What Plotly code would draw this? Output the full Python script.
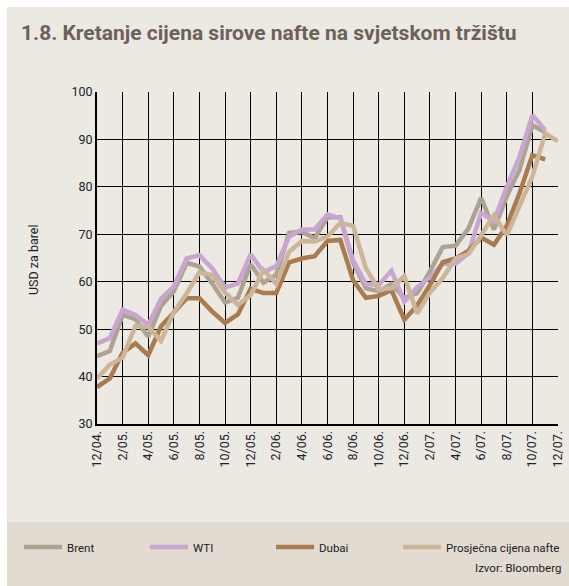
import plotly.graph_objects as go

months = ["12/04.", "1/05.", "2/05.", "3/05.", "4/05.", "5/05.", "6/05.", "7/05.", "8/05.",
          "9/05.", "10/05.", "11/05.", "12/05.", "1/06.", "2/06.", "3/06.", "4/06.", "5/06.",
          "6/06.", "7/06.", "8/06.", "9/06.", "10/06.", "11/06.", "12/06.", "1/07.", "2/07.",
          "3/07.", "4/07.", "5/07.", "6/07.", "7/07.", "8/07.", "9/07.", "10/07.", "11/07.", "12/07."]
tick_labels = months[::2]

brent = [44.3, 45.4, 53.0, 52.1, 48.4, 54.9, 58.0, 64.0, 63.2, 59.6, 55.6, 56.6, 63.7, 59.8, 61.5,
         70.3, 70.5, 69.2, 73.6, 73.6, 64.0, 58.6, 58.0, 59.5, 56.6, 57.6, 62.2, 67.3, 67.6, 71.2,
         77.7, 71.0, 78.0, 83.6, 93.0, 91.5]
wti = [47.0, 48.1, 54.1, 53.0, 50.9, 56.4, 59.0, 64.9, 65.6, 62.8, 58.8, 59.6, 65.8, 62.0, 63.3,
       69.5, 71.0, 71.0, 74.2, 73.3, 64.5, 59.5, 59.3, 62.3, 55.8, 58.8, 60.9, 63.8, 63.8, 66.0,
       74.5, 72.8, 80.0, 86.4, 95.1, 92.0]
dubai = [37.8, 39.6, 45.0, 47.0, 44.5, 50.6, 53.5, 56.5, 56.5, 53.7, 51.3, 53.1, 58.5, 57.6, 57.6,
         64.1, 64.9, 65.4, 68.6, 68.8, 60.3, 56.6, 57.0, 58.2, 52.0, 55.0, 59.3, 64.1, 64.9, 66.5,
         69.3, 67.8, 71.8, 78.7, 86.7, 85.8]
avg = [39.6, 42.5, 44.0, 50.7, 50.5, 47.5, 53.6, 57.5, 62.0, 61.4, 57.7, 55.1, 57.2, 62.5, 59.5,
       66.3, 68.6, 68.5, 69.5, 72.4, 71.8, 62.8, 58.4, 58.6, 61.2, 53.3, 57.7, 60.8, 64.9, 65.8,
       69.8, 74.0, 69.8, 75.8, 82.2, 91.3, 89.6]

series = [
    ("Brent", brent, "#ADA392", "legend"),
    ("WTI", wti, "#C8A5D2", "legend"),
    ("Dubai", dubai, "#A97B4F", "legend"),
    ("Prosječna cijena nafte", avg, "#CDB59A", "legend2"),
]

FONT = "Roboto, sans-serif"
PANEL = "#ECE8E2"
BAND = "#E1DBD1"

W, H = 569, 586
ML, MR, MT, MB = 97, 11, 92, 162
PW, PH = W - ML - MR, H - MT - MB

def px(x):
    return (x - ML) / PW

def py(y):
    return (H - MB - y) / PH

fig = go.Figure()
for name, vals, col, lg in series:
    fig.add_trace(go.Scatter(
        x=list(range(len(vals))), y=vals, name=name, mode="lines", legend=lg,
        line=dict(color=col, width=4.5), hoverinfo="skip"))

shapes = [
    dict(type="rect", xref="paper", yref="paper", x0=px(7), x1=px(W + 5), y0=py(7), y1=py(H + 5),
         fillcolor=PANEL, line=dict(width=0), layer="below"),
    dict(type="rect", xref="paper", yref="paper", x0=px(7), x1=px(W + 5), y0=py(522), y1=py(H + 5),
         fillcolor=BAND, line=dict(width=0), layer="below"),
]

annotations = [
    dict(text="<b>1.8. Kretanje cijena sirove nafte na svjetskom tržištu</b>", xref="paper", yref="paper",
         x=px(19), y=py(33), xanchor="left", yanchor="middle", showarrow=False,
         font=dict(family=FONT, size=21, color="#6E6158")),
    dict(text="USD za barel", xref="paper", yref="paper", x=px(33), y=py(260), textangle=-90,
         xanchor="center", yanchor="middle", showarrow=False,
         font=dict(family=FONT, size=12.5, color="#222")),
    dict(text="Izvor: Bloomberg", xref="paper", yref="paper", x=px(563), y=py(568),
         xanchor="right", yanchor="middle", showarrow=False,
         font=dict(family=FONT, size=11.5, color="#222")),
]

legend_common = dict(orientation="h", yanchor="middle", xanchor="left", bgcolor="rgba(0,0,0,0)",
                     itemwidth=38, font=dict(family=FONT, size=11.5, color="#222"))

fig.update_layout(
    width=W, height=H,
    margin=dict(l=ML, r=MR, t=MT, b=MB, autoexpand=False),
    paper_bgcolor="white", plot_bgcolor=PANEL,
    shapes=shapes, annotations=annotations,
    showlegend=True,
    legend=dict(x=px(19), y=py(547), entrywidth=73, entrywidthmode="pixels",
                traceorder="normal", **legend_common),
    legend2=dict(x=px(398), y=py(547), **legend_common),
    xaxis=dict(range=[0, 36], tickmode="array", tickvals=list(range(0, 37, 2)), ticktext=tick_labels,
               tickangle=-90, showgrid=True, gridcolor="black", gridwidth=1, zeroline=False,
               showline=True, linecolor="black", linewidth=2, ticks="", automargin=False,
               tickfont=dict(family=FONT, size=12.5, color="#222")),
    yaxis=dict(range=[30, 100], dtick=10, showgrid=True, gridcolor="black", gridwidth=1,
               zeroline=False, showline=True, linecolor="black", linewidth=2, ticks="", automargin=False,
               tickfont=dict(family=FONT, size=12.5, color="#222")),
)

fig.write_html("out.html", config={"displayModeBar": False},
               post_script="document.body.style.margin='0';document.body.style.overflow='hidden';")
